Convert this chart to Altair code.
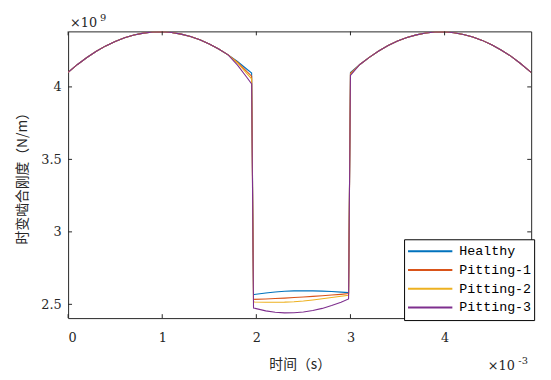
import altair as alt
import pandas as pd

# time axis (units of 1e-3 s)
time_ms = [0.0, 0.1, 0.2, 0.3, 0.4, 0.5, 0.6, 0.7, 0.8, 0.9,
           1.0, 1.1, 1.2, 1.3, 1.4, 1.5, 1.6, 1.7, 1.8, 1.9,
           1.95, 1.97, 2.1, 2.2, 2.3, 2.4, 2.5, 2.6, 2.7, 2.8, 2.9, 2.98,
           3.0, 3.1, 3.2, 3.3, 3.4, 3.5, 3.6, 3.7, 3.8, 3.9,
           4.0, 4.1, 4.2, 4.3, 4.4, 4.5, 4.6, 4.7, 4.8, 4.9, 4.92]

# mesh stiffness (units of 1e9 N/m)
high_a = [4.100, 4.155, 4.203, 4.246, 4.283, 4.314, 4.339, 4.358, 4.371, 4.379,
          4.380, 4.375, 4.364, 4.348, 4.325, 4.296, 4.262, 4.221]
high_c = [4.155, 4.204, 4.248, 4.285, 4.316, 4.341, 4.359, 4.372, 4.379,
          4.380, 4.374, 4.362, 4.345, 4.321, 4.291, 4.255, 4.214, 4.165, 4.111, 4.100]

healthy = high_a + [4.175, 4.122, 4.096,
                    2.567, 2.578, 2.585, 2.590, 2.593, 2.594, 2.593, 2.591, 2.588, 2.584, 2.581,
                    4.100] + high_c
pitting1 = high_a + [4.170, 4.105, 4.074,
                     2.534, 2.537, 2.540, 2.543, 2.547, 2.551, 2.555, 2.559, 2.564, 2.569, 2.574,
                     4.094] + high_c
pitting2 = high_a + [4.165, 4.092, 4.056,
                     2.516, 2.514, 2.514, 2.515, 2.518, 2.523, 2.530, 2.538, 2.547, 2.556, 2.563,
                     4.088] + high_c
pitting3 = high_a + [4.150, 4.065, 4.020,
                     2.475, 2.455, 2.445, 2.441, 2.442, 2.447, 2.457, 2.472, 2.492, 2.515, 2.537,
                     4.080] + high_c

series_names = ["Healthy", "Pitting-1", "Pitting-2", "Pitting-3"]
series_colors = ["#0072BD", "#D95319", "#EDB120", "#7E2F8E"]
series_values = [healthy, pitting1, pitting2, pitting3]

x_ticks = [0, 1, 2, 3, 4]
y_ticks = [2.5, 3, 3.5, 4]

rows = []
for name, vals in zip(series_names, series_values):
    for i, (t, v) in enumerate(zip(time_ms, vals)):
        rows.append({"t": t, "k": v, "series": name, "order": i})
df = pd.DataFrame(rows)

W, H = 470, 291
XDOM = [0, 4.92]
YDOM = [2.405, 4.383]
AX = "#262626"
SERIF = "DejaVu Serif"
MONO = "Liberation Mono, DejaVu Sans Mono, monospace"
CJK = "Noto Sans CJK SC"

xscale = alt.Scale(domain=XDOM, nice=False, zero=False)
yscale = alt.Scale(domain=YDOM, nice=False, zero=False)

lines = alt.Chart(df).mark_line(strokeWidth=1.1, clip=True).encode(
    x=alt.X("t:Q", scale=xscale,
            axis=alt.Axis(values=x_ticks, format="~g", title="时间（s）", grid=False,
                          domain=False, ticks=False, labelPadding=14,
                          labelFont=SERIF, labelFontSize=13, labelColor=AX,
                          titleFont=CJK, titleFontSize=14,
                          titleFontWeight="normal", titleColor=AX, titlePadding=13)),
    y=alt.Y("k:Q", scale=yscale,
            axis=alt.Axis(values=y_ticks, format="~g", title="时变啮合刚度（N/m）", grid=False,
                          domain=False, ticks=False, labelPadding=7,
                          labelFont=SERIF, labelFontSize=13, labelColor=AX,
                          titleFont=CJK, titleFontSize=14,
                          titleFontWeight="normal", titleColor=AX, titlePadding=12)),
    color=alt.Color("series:N",
                    scale=alt.Scale(domain=series_names, range=series_colors),
                    legend=alt.Legend(title=None, orient="none", legendX=341, legendY=211,
                                      symbolType="stroke", symbolSize=2025,
                                      symbolStrokeWidth=2, labelFont=MONO,
                                      labelFontSize=13.5, labelColor="black", labelOffset=6,
                                      labelExpr="datum.label + ' '",
                                      clipHeight=18.5, rowPadding=0, padding=3,
                                      fillColor="white", strokeColor="black")),
    detail="series:N",
    order="order:Q",
)

xt = pd.DataFrame({"v": x_ticks})
yt = pd.DataFrame({"v": y_ticks})

xtick_b = alt.Chart(xt).mark_rule(color=AX, strokeWidth=1).encode(
    x=alt.X("v:Q", scale=xscale), y=alt.value(H), y2=alt.value(H - 4))
xtick_t = alt.Chart(xt).mark_rule(color=AX, strokeWidth=1).encode(
    x=alt.X("v:Q", scale=xscale), y=alt.value(0), y2=alt.value(4))
ytick_l = alt.Chart(yt).mark_rule(color=AX, strokeWidth=1).encode(
    y=alt.Y("v:Q", scale=yscale), x=alt.value(0), x2=alt.value(4))
ytick_r = alt.Chart(yt).mark_rule(color=AX, strokeWidth=1).encode(
    y=alt.Y("v:Q", scale=yscale), x=alt.value(W), x2=alt.value(W - 4))

anno = pd.DataFrame({"a": [0]})
def txt(s, x, y, size):
    return alt.Chart(anno).mark_text(text=s, align="left", baseline="alphabetic",
                                     font=SERIF, fontSize=size, color=AX).encode(
        x=alt.value(x), y=alt.value(y))

exp_y1 = txt("×10", 2, -4, 13)
exp_y2 = txt("9", 32.5, -10.5, 10)
exp_x1 = txt("×10", 426, 344, 13)
exp_x2 = txt("-3", 457, 337.5, 10)

chart = alt.layer(lines, xtick_b, xtick_t, ytick_l, ytick_r,
                  exp_y1, exp_y2, exp_x1, exp_x2).properties(
    width=W, height=H,
    autosize=alt.AutoSizeParams(type="none"),
    padding={"left": 61, "top": 21, "right": 12, "bottom": 55},
    background="white",
).configure_view(stroke=AX, strokeWidth=1)

chart.save("out.html", embed_options={"renderer": "svg", "actions": False})
